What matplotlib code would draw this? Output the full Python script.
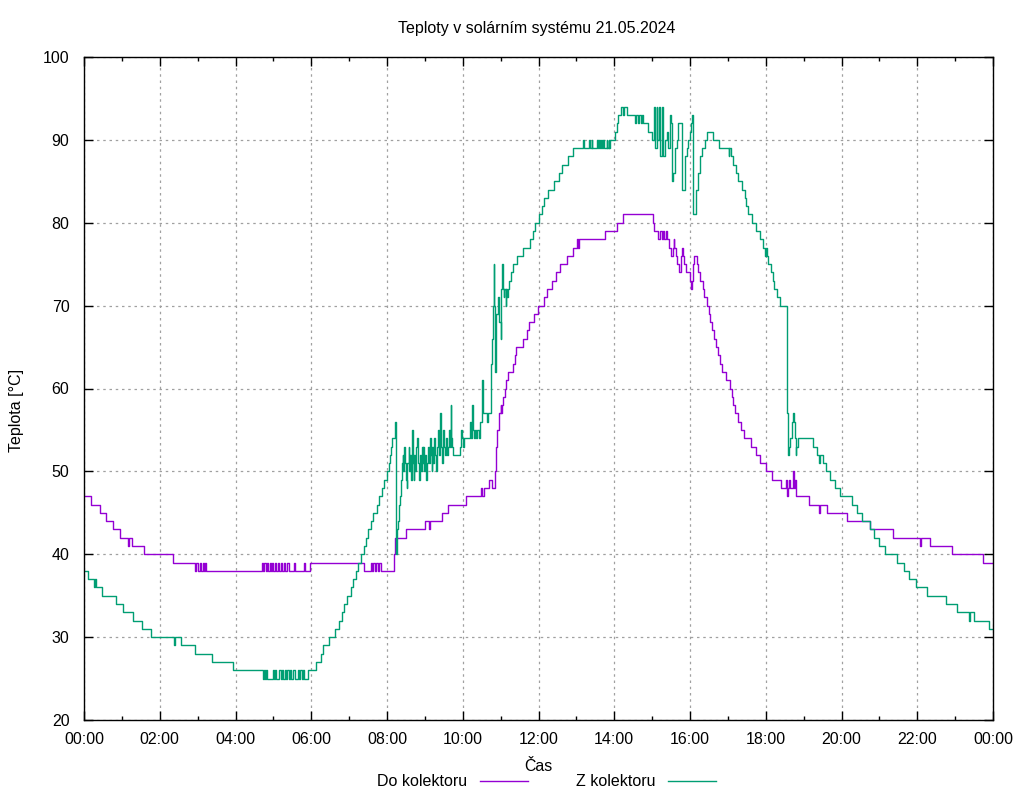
import matplotlib
matplotlib.use("Agg")
import matplotlib.pyplot as plt
from matplotlib.lines import Line2D

plt.rcParams["font.family"] = ["Liberation Sans", "DejaVu Sans"]

# cas v hodinach (0-24), teplota v degC, schodovity prubeh
do_t = [0.00, 0.19, 0.41, 0.57, 0.77, 0.95, 1.16, 1.18, 1.28, 1.58, 2.36, 2.93,
        2.97, 3.00, 3.05, 3.09, 3.13, 3.16, 3.20, 3.23,
        4.69, 4.73, 4.76, 4.80, 4.83, 4.86, 4.90, 4.93, 4.97, 5.00, 5.04, 5.07,
        5.12, 5.15, 5.20, 5.24, 5.29, 5.32, 5.37, 5.40, 5.54, 5.57, 5.81, 5.84,
        5.98, 7.38, 7.57, 7.60, 7.64, 7.67, 7.72, 7.75, 7.80, 7.83, 8.18, 8.22,
        8.50, 9.00, 9.10, 9.13, 9.44, 9.62, 10.09, 10.48, 10.52, 10.57, 10.70,
        10.78, 10.84, 10.87, 10.90, 10.97, 11.00, 11.02, 11.04, 11.07, 11.11,
        11.14, 11.19, 11.32, 11.37, 11.41, 11.58, 11.69, 11.75, 11.89, 11.99,
        12.14, 12.23, 12.35, 12.46, 12.57, 12.74, 12.90, 13.01, 13.05, 13.07,
        13.75, 14.08, 14.22, 15.01, 15.06, 15.15, 15.21, 15.25, 15.29, 15.31,
        15.36, 15.40, 15.45, 15.51, 15.54, 15.58, 15.59, 15.62, 15.66, 15.72,
        15.75, 15.78, 15.82, 15.85, 15.89, 15.93, 16.00, 16.03, 16.06, 16.08,
        16.10, 16.19, 16.22, 16.27, 16.34, 16.37, 16.44, 16.51, 16.54, 16.59,
        16.63, 16.69, 16.75, 16.79, 16.84, 16.95, 17.06, 17.10, 17.14, 17.19,
        17.28, 17.35, 17.43, 17.60, 17.74, 17.85, 18.01, 18.16, 18.39, 18.54,
        18.56, 18.58, 18.62, 18.64, 18.72, 18.74, 18.76, 18.79, 19.15, 19.41,
        19.44, 19.63, 20.14, 20.75, 21.37, 22.07, 22.10, 22.34, 22.91, 23.73,
        24.00]
do_v = [47, 46, 45, 44, 43, 42, 41, 42, 41, 40, 39, 38,
        39, 38, 39, 38, 39, 38, 39, 38,
        39, 38, 39, 38, 39, 38, 39, 38, 39, 38, 39, 38,
        39, 38, 39, 38, 39, 38, 39, 38, 39, 38, 39, 38,
        39, 38, 39, 38, 39, 38, 39, 38, 39, 38, 40, 42,
        43, 44, 43, 44, 45, 46, 47, 48, 47, 48, 49,
        48, 50, 53, 55, 57, 58, 57, 58, 59, 60,
        61, 62, 63, 64, 65, 66, 67, 68, 69, 70,
        71, 72, 73, 74, 75, 76, 77, 78, 77, 78,
        79, 80, 81, 80, 79, 78, 79, 78, 79, 78,
        79, 78, 77, 76, 77, 78, 77, 76, 75, 74,
        76, 77, 76, 75, 74, 74, 73, 72, 73, 75,
        76, 75, 74, 73, 72, 71, 70, 69, 68, 67,
        66, 65, 64, 63, 62, 61, 60, 59, 58, 57,
        56, 55, 54, 53, 52, 51, 50, 49, 48, 49,
        47, 48, 49, 48, 50, 48, 49, 47, 46, 45,
        46, 45, 44, 43, 42, 41, 42, 41, 40, 39,
        39]

z_t = [0.00, 0.10, 0.26, 0.28, 0.31, 0.48, 0.84, 1.04, 1.30, 1.54, 1.76, 2.38,
       2.40, 2.55, 2.93, 3.37, 3.93, 4.73, 4.76, 4.78, 4.81, 4.83, 4.99, 5.02,
       5.05, 5.08, 5.16, 5.19, 5.23, 5.26, 5.30, 5.33, 5.37, 5.40, 5.43, 5.47,
       5.53, 5.57, 5.64, 5.67, 5.71, 5.75, 5.78, 5.81, 5.91, 6.12, 6.25, 6.32,
       6.47, 6.63, 6.73, 6.80, 6.86, 6.94, 7.04, 7.11, 7.17, 7.23, 7.32, 7.39,
       7.45, 7.51, 7.57, 7.64, 7.73, 7.79, 7.86, 7.92, 7.99, 8.04, 8.08, 8.11,
       8.14, 8.20, 8.22, 8.23, 8.27, 8.30, 8.32, 8.34, 8.36, 8.39, 8.41, 8.43,
       8.45, 8.47, 8.49, 8.52, 8.54, 8.57, 8.59, 8.62, 8.64, 8.67, 8.69, 8.70,
       8.72, 8.75, 8.77, 8.80, 8.82, 8.85, 8.87, 8.90, 8.92, 8.94, 8.96, 8.98,
       9.01, 9.03, 9.05, 9.08, 9.11, 9.13, 9.16, 9.18, 9.20, 9.22, 9.25, 9.27,
       9.30, 9.32, 9.35, 9.37, 9.40, 9.42, 9.45, 9.47, 9.49, 9.51, 9.54, 9.56,
       9.58, 9.61, 9.64, 9.66, 9.68, 9.70, 9.72, 9.75, 9.93, 9.95, 9.97, 10.00,
       10.02, 10.19, 10.22, 10.24, 10.26, 10.29, 10.32, 10.35, 10.38, 10.42,
       10.46, 10.50, 10.52, 10.54, 10.63, 10.66, 10.75, 10.78, 10.80, 10.82,
       10.83, 10.84, 10.86, 10.89, 10.93, 10.95, 10.97, 11.00, 11.02, 11.04,
       11.06, 11.08, 11.10, 11.13, 11.15, 11.17, 11.19, 11.23, 11.27, 11.32,
       11.42, 11.60, 11.78, 11.85, 11.92, 12.00, 12.08, 12.15, 12.25, 12.40,
       12.55, 12.62, 12.79, 12.92, 13.17, 13.19, 13.34, 13.37, 13.40, 13.42,
       13.55, 13.57, 13.60, 13.62, 13.65, 13.67, 13.71, 13.73, 13.80, 13.82,
       13.85, 13.87, 13.89, 14.02, 14.06, 14.09, 14.18, 14.24, 14.26, 14.33,
       14.55, 14.58, 14.62, 14.66, 14.70, 14.74, 14.77, 14.90, 15.00, 15.05,
       15.08, 15.12, 15.14, 15.17, 15.21, 15.25, 15.28, 15.30, 15.34, 15.38,
       15.43, 15.47, 15.49, 15.52, 15.53, 15.56, 15.60, 15.65, 15.69, 15.78,
       15.87, 15.91, 15.95, 16.00, 16.03, 16.04, 16.07, 16.09, 16.16, 16.17,
       16.22, 16.26, 16.33, 16.39, 16.46, 16.60, 16.77, 17.02, 17.04, 17.07,
       17.14, 17.21, 17.28, 17.36, 17.44, 17.47, 17.54, 17.63, 17.74, 17.85,
       17.94, 17.98, 18.01, 18.02, 18.07, 18.13, 18.18, 18.23, 18.29, 18.38,
       18.57, 18.59, 18.62, 18.64, 18.68, 18.70, 18.72, 18.74, 18.76, 18.79,
       18.81, 18.86, 19.24, 19.34, 19.40, 19.42, 19.52, 19.59, 19.70, 19.83,
       19.96, 20.29, 20.42, 20.55, 20.74, 20.86, 20.99, 21.15, 21.47, 21.65,
       21.79, 21.98, 22.27, 22.75, 23.06, 23.37, 23.39, 23.51, 23.90, 24.00]
z_v = [38, 37, 36, 37, 36, 35, 34, 33, 32, 31, 30, 29,
       30, 29, 28, 27, 26, 25, 26, 25, 26, 25, 26, 25,
       26, 25, 26, 25, 26, 25, 26, 25, 26, 25, 26, 25,
       26, 25, 26, 25, 26, 25, 26, 25, 26, 27, 28, 29,
       30, 31, 32, 33, 34, 35, 36, 37, 38, 39, 40, 41,
       42, 43, 44, 45, 46, 47, 48, 49, 50, 51, 52, 53,
       54, 55, 56, 40, 43, 44, 46, 47, 49, 51, 52, 50,
       53, 51, 49, 48, 51, 53, 50, 52, 49, 55, 51, 49,
       52, 50, 53, 54, 51, 49, 52, 50, 53, 51, 53, 50,
       52, 49, 51, 53, 51, 54, 52, 50, 53, 51, 54, 52,
       50, 53, 55, 52, 57, 53, 51, 54, 55, 53, 52, 54,
       52, 53, 55, 53, 58, 54, 53, 52, 53, 55, 54, 53,
       54, 56, 54, 58, 55, 54, 55, 54, 55, 54,
       56, 59, 61, 57, 56, 57, 63, 66, 70, 75,
       70, 63, 62, 69, 71, 69, 68, 66, 72, 75,
       72, 71, 72, 70, 72, 71, 72, 73, 74, 75,
       76, 77, 78, 79, 80, 81, 82, 83, 84, 85,
       86, 87, 88, 89, 90, 89, 90, 89, 90, 89,
       90, 89, 90, 89, 90, 89, 90, 89, 90, 89,
       90, 89, 90, 91, 92, 93, 94, 93, 94, 93,
       92, 93, 92, 93, 92, 93, 92, 91, 90, 94,
       89, 94, 90, 94, 88, 94, 93, 88, 90, 91,
       89, 93, 92, 89, 85, 86, 89, 90, 92, 84,
       88, 89, 90, 91, 92, 93, 90, 81, 82, 84,
       86, 88, 89, 90, 91, 90, 89, 88, 89, 88,
       87, 86, 85, 84, 83, 82, 81, 80, 79, 78,
       77, 76, 77, 76, 75, 74, 73, 72, 71, 70,
       57, 52, 53, 54, 55, 56, 57, 56, 54, 52,
       53, 54, 53, 52, 51, 52, 51, 50, 49, 48,
       47, 46, 45, 44, 43, 42, 41, 40, 39, 38,
       37, 36, 35, 34, 33, 32, 33, 32, 31, 31]

x_ticks = list(range(0, 25, 2))
x_labels = ["%02d:00" % (h % 24) for h in x_ticks]
y_ticks = list(range(20, 101, 10))

fig = plt.figure(figsize=(10.24, 8.0), dpi=100)
ax = fig.add_axes([84 / 1024, 0.1, 909 / 1024, 663 / 800])

ax.step(do_t, do_v, where="post", color="#9400d3", lw=1.0)
ax.step(z_t, z_v, where="post", color="#009e73", lw=1.0)

ax.set_xlim(0, 24)
ax.set_ylim(20, 100)
ax.set_xticks(x_ticks)
ax.set_xticklabels(x_labels)
ax.set_xticks(range(1, 24, 2), minor=True)
ax.set_yticks(y_ticks)
ax.tick_params(which="both", direction="in", top=True, right=True,
               labelsize=11.5, width=1.0, colors="black")
ax.tick_params(which="major", length=6.5)
ax.tick_params(which="minor", length=3)
ax.tick_params(axis="x", pad=8.5)
ax.tick_params(axis="y", pad=10.5)
ax.grid(True, which="major", color="#a0a0a0", linestyle=(0, (2, 3)), lw=0.9)
for s in ax.spines.values():
    s.set_linewidth(1.0)

fs = 11.5
fig.text(0.5245, 0.965, "Teploty v solárním systému 21.05.2024",
         ha="center", va="center", fontsize=fs)
fig.text(0.016, 0.4875, "Teplota [°C]", rotation=90, ha="center",
         va="center", fontsize=fs)
fig.text(0.5255, 0.042, "Čas", ha="center", va="center", fontsize=fs)

# legenda pod grafem
fig.text(467 / 1024, 0.0237, "Do kolektoru", ha="right", va="center", fontsize=fs)
fig.add_artist(Line2D([480 / 1024, 528 / 1024], [0.0237, 0.0237],
                      color="#9400d3", lw=1.0, transform=fig.transFigure))
fig.text(655 / 1024, 0.0237, "Z kolektoru", ha="right", va="center", fontsize=fs)
fig.add_artist(Line2D([668 / 1024, 716 / 1024], [0.0237, 0.0237],
                      color="#009e73", lw=1.0, transform=fig.transFigure))

fig.savefig("out.png", dpi=100)
